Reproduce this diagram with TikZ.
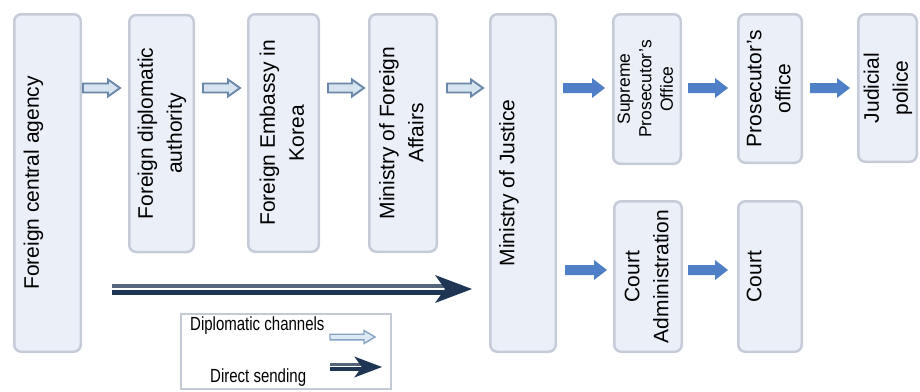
\documentclass[tikz,border=0pt]{standalone}
\usepackage{fontspec}
\setmainfont{Liberation Sans}
\newfontfamily\narrowfont[FakeStretch=0.79]{Liberation Sans}
\usetikzlibrary{calc}

\definecolor{boxfill}{HTML}{EBEFF8}
\definecolor{boxline}{HTML}{C5CCD8}
\definecolor{hollowline}{HTML}{6A86A8}
\definecolor{hollowfill}{HTML}{D6E4F0}
\definecolor{hollowlinelt}{HTML}{86A4C4}
\definecolor{hollowfilllt}{HTML}{DDE9F4}
\definecolor{solidblue}{HTML}{4F7FC6}
\definecolor{navy}{HTML}{1E3554}
\definecolor{navylight}{HTML}{55657A}
\definecolor{legendline}{HTML}{C3CAD4}

% block arrow: style, from, to, shaft half-height, head half-height, head length
\newcommand\blockarrow[6]{%
  \path[#1] let \p1=(#2), \p2=(#3) in
    (\x1,\y1+#4) -- (\x2-#6,\y1+#4) -- (\x2-#6,\y1+#5) -- (\x2,\y1)
    -- (\x2-#6,\y1-#5) -- (\x2-#6,\y1-#4) -- (\x1,\y1-#4) -- cycle;}

% direct-sending arrow: from, to, scale
\newcommand\sendarrow[3]{%
  \fill[navy] let \p1=(#1), \p2=(#2) in
    (\x1,\y1-0.5*#3pt) rectangle (\x2-20*#3pt,\y1-5.5*#3pt);
  \fill[navylight] let \p1=(#1), \p2=(#2) in
    (\x1,\y1+1.5*#3pt) rectangle (\x2-20*#3pt,\y1+5.5*#3pt);
  \fill[navy] let \p1=(#1), \p2=(#2) in
    (\x2,\y1) -- (\x2-37*#3pt,\y1+14*#3pt) -- (\x2-27*#3pt,\y1)
    -- (\x2-37*#3pt,\y1-14*#3pt) -- cycle;}

% vertical (rotated) box label
\newcommand\vlabel[1]{\rotatebox{90}{\begin{tabular}{@{}c@{}}#1\end{tabular}}}
% single-line label set on the first of two lines
\newcommand\vlabelone[1]{\vlabel{#1\\ \mbox{}}}

\begin{document}
\begin{tikzpicture}[x=1pt,y=-1pt,
  box/.style={draw=boxline, fill=boxfill, line width=2.5pt, rounded corners=7pt, inner sep=0pt},
  boxtext/.style={font=\fontsize{21pt}{29pt}\selectfont},
  smalltext/.style={font=\fontsize{17.5pt}{21.5pt}\selectfont},
  hollow/.style={draw=hollowline, fill=hollowfill, line width=1.9pt, line join=miter},
  hollowsmall/.style={draw=hollowlinelt, fill=hollowfilllt, line width=1.4pt, line join=miter},
  solid/.style={fill=solidblue},
  legendbox/.style={draw=legendline, line width=1.8pt, fill=white, inner sep=0pt},
  legendtext/.style={font=\narrowfont\fontsize{19pt}{21pt}\selectfont, inner sep=0pt, anchor=base west}]

\useasboundingbox (0,0) rectangle (920,391);

% rows of arrows
\coordinate (r1) at (0,88);
\coordinate (r2) at (0,270);
\coordinate (r3) at (0,289);

% boxes
\node[box, boxtext, minimum width=66.5pt, minimum height=337.5pt] (fca) at (47.5,183) {\vlabelone{Foreign central agency}};
\node[box, boxtext, minimum width=64.5pt, minimum height=237pt] (fda) at (161.5,133.5) {\vlabel{Foreign diplomatic\\authority}};
\node[box, boxtext, minimum width=70.5pt, minimum height=237.5pt] (emb) at (283.5,133) {\vlabel{Foreign Embassy in\\Korea}};
\node[box, boxtext, minimum width=67.5pt, minimum height=237.5pt] (mofa) at (403,133) {\vlabel{Ministry of Foreign\\Affairs}};
\node[box, boxtext, minimum width=65.5pt, minimum height=337.5pt] (moj) at (523,183) {\vlabelone{Ministry of Justice}};
\node[box, smalltext, minimum width=67.5pt, minimum height=149.5pt] (spo) at (647,89) {\vlabel{Supreme\\Prosecutor's\\Office}};
\node[box, boxtext, minimum width=63.5pt, minimum height=148.5pt] (po) at (770,88.5) {\vlabel{Prosecutor's\\office}};
\node[box, boxtext, minimum width=58.5pt, minimum height=147.5pt] (jp) at (887.5,88) {\vlabel{Judicial\\police}};
\node[box, boxtext, minimum width=67.5pt, minimum height=150.5pt] (ca) at (648,276.5) {\vlabel{Court\\Administration}};
\node[box, boxtext, minimum width=63.5pt, minimum height=150.5pt] (court) at (770,276.5) {\vlabelone{Court}};

% diplomatic channel arrows
\blockarrow{hollow}{$(fca.east|-r1)+(1,0)$}{$(fda.west|-r1)+(-8,0)$}{4.5pt}{8.5pt}{12pt}
\blockarrow{hollow}{$(fda.east|-r1)+(8,0)$}{$(emb.west|-r1)+(-7,0)$}{4.5pt}{8.5pt}{12pt}
\blockarrow{hollow}{$(emb.east|-r1)+(8,0)$}{$(mofa.west|-r1)+(-4,0)$}{4.5pt}{8.5pt}{12pt}
\blockarrow{hollow}{$(mofa.east|-r1)+(9,0)$}{$(moj.west|-r1)+(-6,0)$}{4.5pt}{8.5pt}{12pt}

% domestic forwarding arrows
\blockarrow{solid}{$(moj.east|-r1)+(6,0)$}{$(spo.west|-r1)+(-7,0)$}{5pt}{10pt}{13pt}
\blockarrow{solid}{$(spo.east|-r1)+(6,0)$}{$(po.west|-r1)+(-9,0)$}{5pt}{10pt}{13pt}
\blockarrow{solid}{$(po.east|-r1)+(7,0)$}{$(jp.west|-r1)+(-7,0)$}{5pt}{10pt}{13pt}
\blockarrow{solid}{$(moj.east|-r2)+(8,0)$}{$(ca.west|-r2)+(-6,0)$}{5pt}{10pt}{13pt}
\blockarrow{solid}{$(ca.east|-r2)+(5,0)$}{$(court.west|-r2)+(-9,0)$}{5pt}{10pt}{13pt}

% direct sending
\sendarrow{$(fca.east|-r3)+(30,0)$}{$(moj.west|-r3)+(-17,0)$}{1}

% legend
\node[legendbox, minimum width=210pt, minimum height=75pt] (legend) at (286,351.5) {};
\node[legendtext] (ldip) at (190,330) {Diplomatic channels};
\node[legendtext] (ldir) at (210,382) {Direct sending};
\coordinate (lh1) at (330,337);
\coordinate (lh2) at (375,337);
\coordinate (ls1) at (330,367);
\coordinate (ls2) at (382,367);
\blockarrow{hollowsmall}{lh1}{lh2}{2.8pt}{6.5pt}{11pt}
\sendarrow{ls1}{ls2}{0.75}
\end{tikzpicture}
\end{document}
